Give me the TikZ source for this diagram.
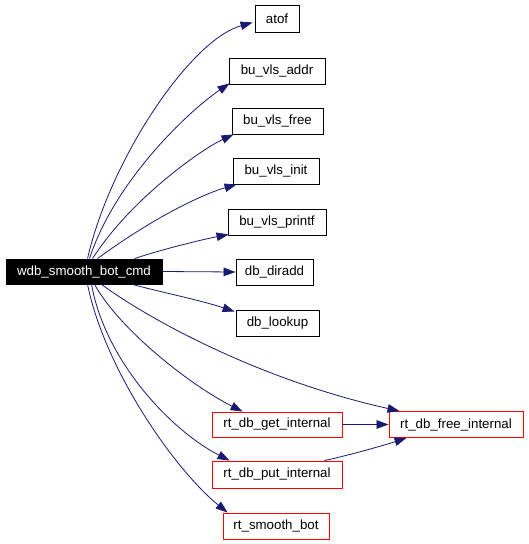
\documentclass[tikz,border=0pt]{standalone}
\usepackage{fontspec}
\setmainfont{Liberation Sans}
\usetikzlibrary{arrows.meta,calc}
\definecolor{edgeblue}{HTML}{191970}
\begin{document}
\begin{tikzpicture}[x=1pt,y=-1pt,
  box/.style={draw=black,line width=0.9pt,fill=white,inner sep=0pt,minimum height=26pt,
    font=\fontsize{13.3}{15}\selectfont},
  redbox/.style={box,draw=red},
  mainbox/.style={box,fill=black,text=white},
  edge/.style={draw=edgeblue,line width=0.8pt,-{Triangle[length=12pt,width=8.5pt]}}]
\useasboundingbox (0,0) rectangle (528,544);
\node[mainbox,minimum width=156pt,minimum height=25pt] (main) at (84,271.5) {wdb\_smooth\_bot\_cmd};
\node[box,minimum width=44pt,minimum height=27pt] (atof) at (277,18.5) {atof};
\node[box,minimum width=96pt] (addr) at (277,71) {bu\_vls\_addr};
\node[box,minimum width=91pt] (vfree) at (277.5,121) {bu\_vls\_free};
\node[box,minimum width=86pt] (init) at (276,171) {bu\_vls\_init};
\node[box,minimum width=98pt] (printf) at (277,222) {bu\_vls\_printf};
\node[box,minimum width=77pt] (diradd) at (274.5,272) {db\_diradd};
\node[box,minimum width=83pt] (lookup) at (277.5,323) {db\_lookup};
\node[redbox,minimum width=130pt,minimum height=25pt] (get) at (277,424.5) {rt\_db\_get\_internal};
\node[redbox,minimum width=130pt,minimum height=27pt] (put) at (277,474.5) {rt\_db\_put\_internal};
\node[redbox,minimum width=106pt] (smooth) at (276,526) {rt\_smooth\_bot};
\node[redbox,minimum width=134pt] (free) at (456,424.5) {rt\_db\_free\_internal};
% edges from main (top)
\draw[edge] ($(main.north west)+(82,0)$) .. controls (110,160) and (190,40) .. ($(atof.west)+(-2,4)$);
\draw[edge] ($(main.north west)+(84,0)$) .. controls (115,180) and (190,110) .. ($(addr.south west)+(1,-1)$);
\draw[edge] ($(main.north west)+(87,0)$) .. controls (130,200) and (200,150) .. ($(vfree.south west)+(2,0)$);
\draw[edge] ($(main.north west)+(92,0)$) .. controls (150,220) and (200,195) .. ($(init.south west)+(4,0)$);
\draw[edge] ($(main.north west)+(129,0)$) .. controls (160,250) and (200,240) .. ($(printf.south west)+(1,-1)$);
\draw[edge] (main.east) -- (diradd.west);
% edges from main (bottom)
\draw[edge] ($(main.south west)+(127,0)$) .. controls (160,292) and (200,300) .. ($(lookup.north west)+(-1,2)$);
\draw[edge] ($(main.south west)+(96,0)$) .. controls (150,320) and (260,380) .. ($(free.north west)+(11,0)$);
\draw[edge] ($(main.south west)+(89,0)$) .. controls (120,330) and (190,385) .. ($(get.north west)+(31,0)$);
\draw[edge] ($(main.south west)+(86,0)$) .. controls (105,360) and (170,430) .. ($(put.north west)+(18,0)$);
\draw[edge] ($(main.south west)+(82,0)$) .. controls (105,370) and (175,470) .. ($(smooth.north west)+(5,0)$);
% edges into free
\draw[edge] (get.east) -- (free.west);
\draw[edge] ($(put.north west)+(113,0)$) .. controls (350,455) and (385,445) .. ($(free.south west)+(18,0)$);
\end{tikzpicture}
\end{document}
